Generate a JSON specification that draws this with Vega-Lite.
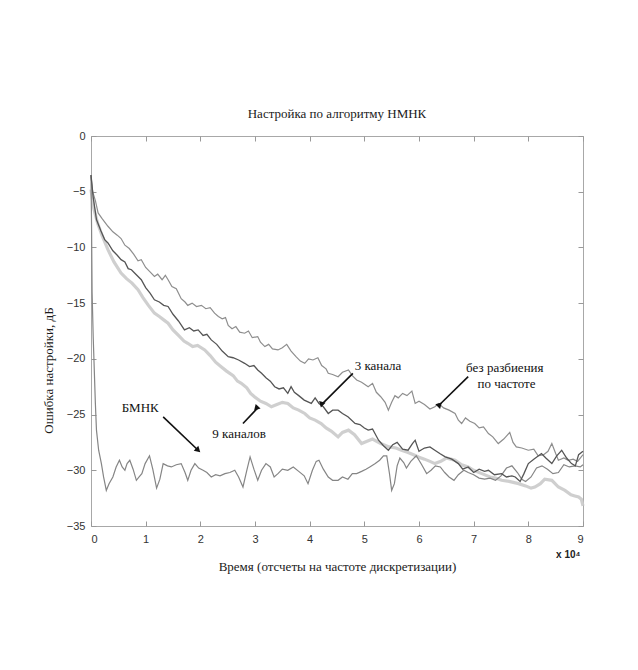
{
"$schema": "https://vega.github.io/schema/vega-lite/v6.json",
"width": 492, "height": 390,
"autosize": {"type": "none"},
"padding": {"left": 91, "top": 136, "right": 55, "bottom": 144},
"background": "white",
"config": {"view": {"stroke": "#a8a8a8", "strokeWidth": 1}},
"title": {"text": "Настройка по алгоритму НМНК", "font": "Liberation Serif", "fontSize": 13, "fontWeight": "normal", "color": "#1a1a1a", "anchor": "middle", "baseline": "bottom", "offset": -4},
"datasets": {
"curves": [
{"s":"C","x":0,"y":-4.8},{"s":"C","x":0.05,"y":-6.5},{"s":"C","x":0.12,"y":-7.8},{"s":"C","x":0.2,"y":-8.9},{"s":"C","x":0.31,"y":-10.2},{"s":"C","x":0.42,"y":-11.3},{"s":"C","x":0.55,"y":-12.3},{"s":"C","x":0.65,"y":-12.8},{"s":"C","x":0.75,"y":-13.2},{"s":"C","x":0.86,"y":-13.8},{"s":"C","x":0.95,"y":-14.5},{"s":"C","x":1.05,"y":-15.2},{"s":"C","x":1.16,"y":-15.9},{"s":"C","x":1.25,"y":-16.2},{"s":"C","x":1.33,"y":-16.5},{"s":"C","x":1.41,"y":-16.8},{"s":"C","x":1.5,"y":-17.4},{"s":"C","x":1.6,"y":-17.9},{"s":"C","x":1.7,"y":-18.4},{"s":"C","x":1.77,"y":-18.6},{"s":"C","x":1.86,"y":-18.9},{"s":"C","x":1.95,"y":-18.8},{"s":"C","x":2.08,"y":-19.2},{"s":"C","x":2.18,"y":-19.7},{"s":"C","x":2.28,"y":-20.3},{"s":"C","x":2.38,"y":-20.7},{"s":"C","x":2.48,"y":-21.1},{"s":"C","x":2.6,"y":-21.5},{"s":"C","x":2.68,"y":-22.0},{"s":"C","x":2.75,"y":-22.2},{"s":"C","x":2.85,"y":-22.6},{"s":"C","x":2.92,"y":-23.1},{"s":"C","x":2.99,"y":-23.4},{"s":"C","x":3.1,"y":-23.8},{"s":"C","x":3.2,"y":-24.0},{"s":"C","x":3.3,"y":-24.3},{"s":"C","x":3.4,"y":-24.1},{"s":"C","x":3.5,"y":-23.9},{"s":"C","x":3.6,"y":-24.0},{"s":"C","x":3.7,"y":-24.4},{"s":"C","x":3.8,"y":-24.6},{"s":"C","x":3.91,"y":-24.9},{"s":"C","x":4.0,"y":-25.3},{"s":"C","x":4.1,"y":-25.5},{"s":"C","x":4.21,"y":-25.8},{"s":"C","x":4.3,"y":-26.2},{"s":"C","x":4.4,"y":-26.5},{"s":"C","x":4.52,"y":-27.0},{"s":"C","x":4.6,"y":-26.6},{"s":"C","x":4.71,"y":-26.4},{"s":"C","x":4.82,"y":-26.8},{"s":"C","x":4.95,"y":-27.6},{"s":"C","x":5.05,"y":-27.4},{"s":"C","x":5.15,"y":-27.2},{"s":"C","x":5.3,"y":-27.6},{"s":"C","x":5.45,"y":-27.9},{"s":"C","x":5.58,"y":-28.0},{"s":"C","x":5.68,"y":-28.2},{"s":"C","x":5.8,"y":-28.4},{"s":"C","x":5.9,"y":-28.6},{"s":"C","x":5.99,"y":-28.8},{"s":"C","x":6.1,"y":-29.0},{"s":"C","x":6.2,"y":-29.2},{"s":"C","x":6.29,"y":-29.4},{"s":"C","x":6.4,"y":-29.2},{"s":"C","x":6.5,"y":-28.9},{"s":"C","x":6.58,"y":-29.0},{"s":"C","x":6.66,"y":-29.1},{"s":"C","x":6.78,"y":-29.5},{"s":"C","x":6.9,"y":-29.7},{"s":"C","x":7.0,"y":-30.0},{"s":"C","x":7.15,"y":-30.3},{"s":"C","x":7.3,"y":-30.6},{"s":"C","x":7.4,"y":-30.7},{"s":"C","x":7.51,"y":-30.9},{"s":"C","x":7.65,"y":-31.0},{"s":"C","x":7.82,"y":-31.2},{"s":"C","x":7.95,"y":-31.4},{"s":"C","x":8.05,"y":-31.6},{"s":"C","x":8.12,"y":-31.5},{"s":"C","x":8.22,"y":-31.2},{"s":"C","x":8.3,"y":-30.8},{"s":"C","x":8.43,"y":-30.9},{"s":"C","x":8.55,"y":-31.5},{"s":"C","x":8.67,"y":-31.8},{"s":"C","x":8.78,"y":-32.2},{"s":"C","x":8.85,"y":-32.3},{"s":"C","x":8.92,"y":-32.4},{"s":"C","x":8.97,"y":-32.6},{"s":"C","x":9.0,"y":-33.2},
{"s":"A","x":0,"y":-3.6},{"s":"A","x":0.03,"y":-5.0},{"s":"A","x":0.08,"y":-5.8},{"s":"A","x":0.13,"y":-6.9},{"s":"A","x":0.2,"y":-7.4},{"s":"A","x":0.31,"y":-8.1},{"s":"A","x":0.4,"y":-8.6},{"s":"A","x":0.48,"y":-8.9},{"s":"A","x":0.55,"y":-9.2},{"s":"A","x":0.62,"y":-9.8},{"s":"A","x":0.7,"y":-10.1},{"s":"A","x":0.78,"y":-10.6},{"s":"A","x":0.86,"y":-11.2},{"s":"A","x":0.92,"y":-11.1},{"s":"A","x":1.0,"y":-11.8},{"s":"A","x":1.08,"y":-12.2},{"s":"A","x":1.16,"y":-12.6},{"s":"A","x":1.22,"y":-12.4},{"s":"A","x":1.3,"y":-12.9},{"s":"A","x":1.36,"y":-12.5},{"s":"A","x":1.41,"y":-12.9},{"s":"A","x":1.48,"y":-13.5},{"s":"A","x":1.56,"y":-13.7},{"s":"A","x":1.65,"y":-14.6},{"s":"A","x":1.72,"y":-14.9},{"s":"A","x":1.77,"y":-15.2},{"s":"A","x":1.85,"y":-15.0},{"s":"A","x":1.93,"y":-15.3},{"s":"A","x":2.02,"y":-15.2},{"s":"A","x":2.1,"y":-15.5},{"s":"A","x":2.18,"y":-15.4},{"s":"A","x":2.26,"y":-15.9},{"s":"A","x":2.33,"y":-16.2},{"s":"A","x":2.4,"y":-16.4},{"s":"A","x":2.46,"y":-16.3},{"s":"A","x":2.51,"y":-17.0},{"s":"A","x":2.58,"y":-17.3},{"s":"A","x":2.65,"y":-17.1},{"s":"A","x":2.72,"y":-17.6},{"s":"A","x":2.81,"y":-17.7},{"s":"A","x":2.88,"y":-17.5},{"s":"A","x":2.95,"y":-18.1},{"s":"A","x":3.05,"y":-18.0},{"s":"A","x":3.1,"y":-18.5},{"s":"A","x":3.18,"y":-18.9},{"s":"A","x":3.25,"y":-18.7},{"s":"A","x":3.32,"y":-19.1},{"s":"A","x":3.42,"y":-19.2},{"s":"A","x":3.5,"y":-19.0},{"s":"A","x":3.58,"y":-18.7},{"s":"A","x":3.66,"y":-19.3},{"s":"A","x":3.75,"y":-19.8},{"s":"A","x":3.83,"y":-20.2},{"s":"A","x":3.91,"y":-20.4},{"s":"A","x":3.98,"y":-20.0},{"s":"A","x":4.06,"y":-20.1},{"s":"A","x":4.15,"y":-19.9},{"s":"A","x":4.22,"y":-20.6},{"s":"A","x":4.3,"y":-20.9},{"s":"A","x":4.34,"y":-21.3},{"s":"A","x":4.42,"y":-21.4},{"s":"A","x":4.52,"y":-21.6},{"s":"A","x":4.6,"y":-21.2},{"s":"A","x":4.71,"y":-21.0},{"s":"A","x":4.78,"y":-21.5},{"s":"A","x":4.86,"y":-21.9},{"s":"A","x":4.95,"y":-22.1},{"s":"A","x":5.07,"y":-22.5},{"s":"A","x":5.15,"y":-22.2},{"s":"A","x":5.22,"y":-23.0},{"s":"A","x":5.3,"y":-23.4},{"s":"A","x":5.38,"y":-23.9},{"s":"A","x":5.44,"y":-24.6},{"s":"A","x":5.5,"y":-23.9},{"s":"A","x":5.56,"y":-23.3},{"s":"A","x":5.62,"y":-23.5},{"s":"A","x":5.7,"y":-23.1},{"s":"A","x":5.78,"y":-23.3},{"s":"A","x":5.87,"y":-22.9},{"s":"A","x":5.93,"y":-24.0},{"s":"A","x":6.0,"y":-23.8},{"s":"A","x":6.1,"y":-24.1},{"s":"A","x":6.2,"y":-24.5},{"s":"A","x":6.29,"y":-24.3},{"s":"A","x":6.36,"y":-24.0},{"s":"A","x":6.45,"y":-24.4},{"s":"A","x":6.55,"y":-24.6},{"s":"A","x":6.66,"y":-24.9},{"s":"A","x":6.72,"y":-25.5},{"s":"A","x":6.78,"y":-25.8},{"s":"A","x":6.85,"y":-25.3},{"s":"A","x":6.93,"y":-25.6},{"s":"A","x":7.02,"y":-25.8},{"s":"A","x":7.1,"y":-26.2},{"s":"A","x":7.18,"y":-26.1},{"s":"A","x":7.27,"y":-26.7},{"s":"A","x":7.35,"y":-27.0},{"s":"A","x":7.45,"y":-27.6},{"s":"A","x":7.55,"y":-27.2},{"s":"A","x":7.66,"y":-26.6},{"s":"A","x":7.72,"y":-27.5},{"s":"A","x":7.78,"y":-27.9},{"s":"A","x":7.88,"y":-28.0},{"s":"A","x":8.0,"y":-28.2},{"s":"A","x":8.1,"y":-28.1},{"s":"A","x":8.18,"y":-28.7},{"s":"A","x":8.28,"y":-28.6},{"s":"A","x":8.36,"y":-28.3},{"s":"A","x":8.43,"y":-27.6},{"s":"A","x":8.5,"y":-28.5},{"s":"A","x":8.55,"y":-29.1},{"s":"A","x":8.65,"y":-28.9},{"s":"A","x":8.73,"y":-29.1},{"s":"A","x":8.82,"y":-29.0},{"s":"A","x":8.9,"y":-29.2},{"s":"A","x":8.95,"y":-28.9},{"s":"A","x":9.0,"y":-28.6},
{"s":"B","x":0,"y":-3.5},{"s":"B","x":0.04,"y":-5.5},{"s":"B","x":0.1,"y":-7.5},{"s":"B","x":0.18,"y":-8.5},{"s":"B","x":0.25,"y":-9.3},{"s":"B","x":0.31,"y":-9.6},{"s":"B","x":0.4,"y":-10.3},{"s":"B","x":0.48,"y":-10.7},{"s":"B","x":0.55,"y":-11.1},{"s":"B","x":0.62,"y":-11.3},{"s":"B","x":0.68,"y":-11.9},{"s":"B","x":0.74,"y":-12.0},{"s":"B","x":0.82,"y":-12.4},{"s":"B","x":0.92,"y":-12.9},{"s":"B","x":1.0,"y":-13.6},{"s":"B","x":1.08,"y":-14.1},{"s":"B","x":1.16,"y":-14.7},{"s":"B","x":1.25,"y":-14.9},{"s":"B","x":1.33,"y":-15.2},{"s":"B","x":1.41,"y":-15.3},{"s":"B","x":1.5,"y":-16.0},{"s":"B","x":1.6,"y":-16.6},{"s":"B","x":1.71,"y":-17.4},{"s":"B","x":1.8,"y":-17.2},{"s":"B","x":1.88,"y":-17.5},{"s":"B","x":1.96,"y":-17.4},{"s":"B","x":2.05,"y":-17.9},{"s":"B","x":2.12,"y":-17.8},{"s":"B","x":2.2,"y":-18.3},{"s":"B","x":2.3,"y":-18.7},{"s":"B","x":2.4,"y":-19.3},{"s":"B","x":2.51,"y":-19.8},{"s":"B","x":2.6,"y":-19.9},{"s":"B","x":2.7,"y":-20.1},{"s":"B","x":2.81,"y":-20.4},{"s":"B","x":2.9,"y":-20.7},{"s":"B","x":2.98,"y":-20.6},{"s":"B","x":3.05,"y":-21.0},{"s":"B","x":3.12,"y":-21.3},{"s":"B","x":3.2,"y":-21.7},{"s":"B","x":3.28,"y":-22.0},{"s":"B","x":3.36,"y":-22.5},{"s":"B","x":3.44,"y":-22.7},{"s":"B","x":3.52,"y":-22.6},{"s":"B","x":3.6,"y":-23.1},{"s":"B","x":3.66,"y":-22.5},{"s":"B","x":3.72,"y":-23.0},{"s":"B","x":3.8,"y":-23.3},{"s":"B","x":3.9,"y":-23.7},{"s":"B","x":4.03,"y":-24.0},{"s":"B","x":4.1,"y":-23.5},{"s":"B","x":4.17,"y":-24.0},{"s":"B","x":4.25,"y":-24.3},{"s":"B","x":4.34,"y":-24.9},{"s":"B","x":4.42,"y":-24.6},{"s":"B","x":4.52,"y":-24.6},{"s":"B","x":4.6,"y":-24.9},{"s":"B","x":4.7,"y":-25.2},{"s":"B","x":4.83,"y":-25.8},{"s":"B","x":4.92,"y":-25.9},{"s":"B","x":5.0,"y":-26.2},{"s":"B","x":5.07,"y":-26.4},{"s":"B","x":5.15,"y":-26.3},{"s":"B","x":5.26,"y":-27.3},{"s":"B","x":5.35,"y":-27.8},{"s":"B","x":5.44,"y":-28.2},{"s":"B","x":5.52,"y":-27.7},{"s":"B","x":5.6,"y":-27.5},{"s":"B","x":5.7,"y":-28.1},{"s":"B","x":5.8,"y":-28.2},{"s":"B","x":5.88,"y":-27.6},{"s":"B","x":5.93,"y":-27.3},{"s":"B","x":6.0,"y":-28.3},{"s":"B","x":6.1,"y":-28.0},{"s":"B","x":6.2,"y":-27.9},{"s":"B","x":6.29,"y":-28.2},{"s":"B","x":6.38,"y":-28.5},{"s":"B","x":6.48,"y":-28.8},{"s":"B","x":6.6,"y":-29.0},{"s":"B","x":6.72,"y":-29.4},{"s":"B","x":6.8,"y":-29.9},{"s":"B","x":6.9,"y":-29.7},{"s":"B","x":7.0,"y":-30.2},{"s":"B","x":7.1,"y":-29.9},{"s":"B","x":7.2,"y":-30.1},{"s":"B","x":7.27,"y":-30.0},{"s":"B","x":7.38,"y":-30.4},{"s":"B","x":7.51,"y":-30.3},{"s":"B","x":7.6,"y":-30.6},{"s":"B","x":7.7,"y":-30.5},{"s":"B","x":7.76,"y":-30.6},{"s":"B","x":7.85,"y":-31.0},{"s":"B","x":7.92,"y":-30.3},{"s":"B","x":8.0,"y":-29.4},{"s":"B","x":8.1,"y":-29.0},{"s":"B","x":8.24,"y":-28.5},{"s":"B","x":8.32,"y":-28.9},{"s":"B","x":8.43,"y":-29.4},{"s":"B","x":8.52,"y":-28.7},{"s":"B","x":8.61,"y":-28.2},{"s":"B","x":8.7,"y":-28.9},{"s":"B","x":8.79,"y":-29.4},{"s":"B","x":8.86,"y":-29.6},{"s":"B","x":8.92,"y":-28.6},{"s":"B","x":9.0,"y":-28.3},
{"s":"M","x":0,"y":-3.5},{"s":"M","x":0.01,"y":-8},{"s":"M","x":0.02,"y":-14},{"s":"M","x":0.04,"y":-18},{"s":"M","x":0.06,"y":-21},{"s":"M","x":0.08,"y":-24},{"s":"M","x":0.1,"y":-26.4},{"s":"M","x":0.14,"y":-28.2},{"s":"M","x":0.19,"y":-29.4},{"s":"M","x":0.23,"y":-30.6},{"s":"M","x":0.28,"y":-31.8},{"s":"M","x":0.33,"y":-31.2},{"s":"M","x":0.4,"y":-30.6},{"s":"M","x":0.46,"y":-29.7},{"s":"M","x":0.52,"y":-29.1},{"s":"M","x":0.57,"y":-29.7},{"s":"M","x":0.62,"y":-30.0},{"s":"M","x":0.66,"y":-29.4},{"s":"M","x":0.71,"y":-29.1},{"s":"M","x":0.77,"y":-29.9},{"s":"M","x":0.83,"y":-30.9},{"s":"M","x":0.88,"y":-30.6},{"s":"M","x":0.93,"y":-30.3},{"s":"M","x":0.99,"y":-29.4},{"s":"M","x":1.07,"y":-28.7},{"s":"M","x":1.13,"y":-29.9},{"s":"M","x":1.2,"y":-31.6},{"s":"M","x":1.26,"y":-30.8},{"s":"M","x":1.32,"y":-29.4},{"s":"M","x":1.4,"y":-29.6},{"s":"M","x":1.47,"y":-29.7},{"s":"M","x":1.56,"y":-29.5},{"s":"M","x":1.65,"y":-29.4},{"s":"M","x":1.72,"y":-30.2},{"s":"M","x":1.77,"y":-30.9},{"s":"M","x":1.83,"y":-30.0},{"s":"M","x":1.9,"y":-29.4},{"s":"M","x":1.97,"y":-29.8},{"s":"M","x":2.05,"y":-30.0},{"s":"M","x":2.12,"y":-30.2},{"s":"M","x":2.2,"y":-30.6},{"s":"M","x":2.28,"y":-30.4},{"s":"M","x":2.36,"y":-30.5},{"s":"M","x":2.45,"y":-30.3},{"s":"M","x":2.54,"y":-30.2},{"s":"M","x":2.63,"y":-30.0},{"s":"M","x":2.7,"y":-30.6},{"s":"M","x":2.78,"y":-31.5},{"s":"M","x":2.85,"y":-30.0},{"s":"M","x":2.91,"y":-28.8},{"s":"M","x":2.98,"y":-29.9},{"s":"M","x":3.05,"y":-30.9},{"s":"M","x":3.12,"y":-30.0},{"s":"M","x":3.2,"y":-29.4},{"s":"M","x":3.28,"y":-29.7},{"s":"M","x":3.35,"y":-30.6},{"s":"M","x":3.42,"y":-30.3},{"s":"M","x":3.5,"y":-29.9},{"s":"M","x":3.6,"y":-30.0},{"s":"M","x":3.7,"y":-29.7},{"s":"M","x":3.8,"y":-30.1},{"s":"M","x":3.9,"y":-30.5},{"s":"M","x":3.97,"y":-31.2},{"s":"M","x":4.05,"y":-30.0},{"s":"M","x":4.12,"y":-29.2},{"s":"M","x":4.17,"y":-29.1},{"s":"M","x":4.25,"y":-29.9},{"s":"M","x":4.34,"y":-30.6},{"s":"M","x":4.42,"y":-30.9},{"s":"M","x":4.52,"y":-30.9},{"s":"M","x":4.6,"y":-30.6},{"s":"M","x":4.7,"y":-30.8},{"s":"M","x":4.78,"y":-30.3},{"s":"M","x":4.86,"y":-30.3},{"s":"M","x":4.95,"y":-30.1},{"s":"M","x":5.03,"y":-29.9},{"s":"M","x":5.1,"y":-29.7},{"s":"M","x":5.2,"y":-29.4},{"s":"M","x":5.28,"y":-29.1},{"s":"M","x":5.35,"y":-28.7},{"s":"M","x":5.41,"y":-28.7},{"s":"M","x":5.46,"y":-30.3},{"s":"M","x":5.5,"y":-31.8},{"s":"M","x":5.55,"y":-31.2},{"s":"M","x":5.6,"y":-29.6},{"s":"M","x":5.65,"y":-28.9},{"s":"M","x":5.72,"y":-29.3},{"s":"M","x":5.77,"y":-29.8},{"s":"M","x":5.85,"y":-29.2},{"s":"M","x":5.95,"y":-28.7},{"s":"M","x":6.05,"y":-29.5},{"s":"M","x":6.14,"y":-30.3},{"s":"M","x":6.22,"y":-30.0},{"s":"M","x":6.3,"y":-29.6},{"s":"M","x":6.39,"y":-29.7},{"s":"M","x":6.47,"y":-30.2},{"s":"M","x":6.55,"y":-30.6},{"s":"M","x":6.64,"y":-30.9},{"s":"M","x":6.72,"y":-30.4},{"s":"M","x":6.82,"y":-30.0},{"s":"M","x":6.9,"y":-30.2},{"s":"M","x":7.0,"y":-30.4},{"s":"M","x":7.1,"y":-30.7},{"s":"M","x":7.2,"y":-30.8},{"s":"M","x":7.3,"y":-30.7},{"s":"M","x":7.4,"y":-30.9},{"s":"M","x":7.5,"y":-30.5},{"s":"M","x":7.6,"y":-29.8},{"s":"M","x":7.7,"y":-29.6},{"s":"M","x":7.8,"y":-30.2},{"s":"M","x":7.88,"y":-30.8},{"s":"M","x":7.95,"y":-31.0},{"s":"M","x":8.05,"y":-30.6},{"s":"M","x":8.15,"y":-29.8},{"s":"M","x":8.25,"y":-29.6},{"s":"M","x":8.35,"y":-29.9},{"s":"M","x":8.45,"y":-30.3},{"s":"M","x":8.55,"y":-30.2},{"s":"M","x":8.65,"y":-29.5},{"s":"M","x":8.75,"y":-29.7},{"s":"M","x":8.85,"y":-29.6},{"s":"M","x":8.95,"y":-29.7},{"s":"M","x":9.0,"y":-29.5}
],
"arrows": [
{"label":"БМНК","x":1.32,"y":-25.2,"x2":1.96,"y2":-28.2},
{"label":"9 каналов","x":2.78,"y":-25.8,"x2":3.05,"y2":-24.4},
{"label":"3 канала","x":4.79,"y":-21.3,"x2":4.24,"y2":-24.0},
{"label":"без разбиения","x":6.9,"y":-21.6,"x2":6.38,"y2":-24.1}
],
"labels": [
{"text":"БМНК","x":0.9,"y":-24.4},
{"text":"9 каналов","x":2.71,"y":-26.7},
{"text":"3 канала","x":5.25,"y":-20.6},
{"text":"без разбиения","x":7.57,"y":-20.8},
{"text":"по частоте","x":7.6,"y":-22.3}
],
"units": [{"text":"x 10⁴","x":8.73,"y":-37.6}]
},
"layer": [
{
"encoding": {
"x": {"field": "x", "type": "quantitative", "scale": {"domain": [0, 9], "nice": false, "zero": false},
 "axis": {"values": [0,1,2,3,4,5,6,7,8,9], "format": "d", "grid": false, "domain": false, "tickSize": -5, "tickColor": "#999999", "labelPadding": 12, "labelFont": "Liberation Sans", "labelFontSize": 11, "labelColor": "#333333",
 "title": "Время (отсчеты на частоте дискретизации)", "titleFont": "Liberation Serif", "titleFontSize": 13, "titleFontWeight": "normal", "titleColor": "#1a1a1a", "titleY": 40, "titleBaseline": "middle"}},
"y": {"field": "y", "type": "quantitative", "scale": {"domain": [-35, 0], "nice": false, "zero": false},
 "axis": {"values": [-35,-30,-25,-20,-15,-10,-5,0], "format": "d", "grid": false, "domain": false, "tickSize": -5, "tickColor": "#999999", "labelPadding": 11, "labelFont": "Liberation Sans", "labelFontSize": 11, "labelColor": "#333333",
 "title": "Ошибка настройки, дБ", "titleFont": "Liberation Serif", "titleFontSize": 13, "titleFontWeight": "normal", "titleColor": "#1a1a1a", "titleX": -43, "titleY": 234, "titleAlign": "center", "titleBaseline": "middle", "titleAngle": 270}}
},
"layer": [
{"data": {"name": "curves"}, "transform": [{"filter": "datum.s === 'C'"}], "mark": {"type": "line", "color": "#cacaca", "strokeWidth": 3.2, "opacity": 0.9}},
{"data": {"name": "curves"}, "transform": [{"filter": "datum.s === 'A'"}], "mark": {"type": "line", "color": "#8e8e8e", "strokeWidth": 1.2}},
{"data": {"name": "curves"}, "transform": [{"filter": "datum.s === 'M'"}], "mark": {"type": "line", "color": "#858585", "strokeWidth": 1.2}},
{"data": {"name": "curves"}, "transform": [{"filter": "datum.s === 'B'"}], "mark": {"type": "line", "color": "#555555", "strokeWidth": 1.3}},
{"data": {"name": "arrows"}, "mark": {"type": "rule", "color": "#111111", "strokeWidth": 1.6}, "encoding": {"x2": {"field": "x2"}, "y2": {"field": "y2"}}},
{"data": {"name": "arrows"}, "mark": {"type": "point", "shape": "triangle-up", "filled": true, "color": "#111111", "size": 45, "opacity": 1},
 "encoding": {"x": {"field": "x2", "type": "quantitative"}, "y": {"field": "y2", "type": "quantitative"},
 "angle": {"field": "label", "type": "nominal", "scale": {"domain": ["БМНК", "9 каналов", "3 канала", "без разбиения"], "range": [133, 45, 225, 223]}, "legend": null}}},
{"data": {"name": "labels"}, "mark": {"type": "text", "font": "Liberation Serif", "fontSize": 13, "color": "#111111", "align": "center", "baseline": "middle"}, "encoding": {"text": {"field": "text"}}},
{"data": {"name": "units"}, "mark": {"type": "text", "font": "Liberation Sans", "fontSize": 10, "fontWeight": "bold", "color": "#222222", "align": "center", "baseline": "middle"}, "encoding": {"text": {"field": "text"}}}
]
},
{
"data": {"name": "curves"},
"mark": {"type": "point", "opacity": 0},
"encoding": {
"x": {"field": "x", "type": "quantitative", "axis": {"orient": "top", "values": [0,1,2,3,4,5,6,7,8,9], "labels": false, "domain": false, "grid": false, "tickSize": -5, "tickColor": "#999999", "title": null}},
"y": {"field": "y", "type": "quantitative", "axis": {"orient": "right", "values": [-35,-30,-25,-20,-15,-10,-5,0], "labels": false, "domain": false, "grid": false, "tickSize": -5, "tickColor": "#999999", "title": null}}
}
}
],
"resolve": {"axis": {"x": "independent", "y": "independent"}}
}
